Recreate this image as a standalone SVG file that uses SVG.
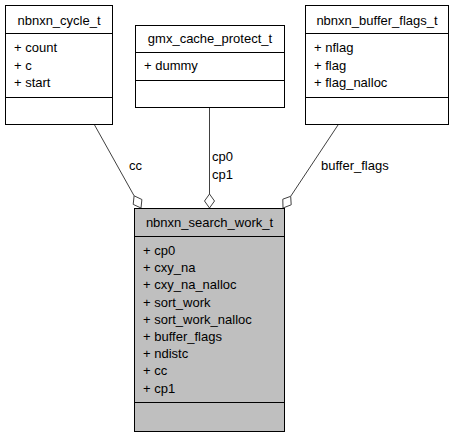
<svg xmlns="http://www.w3.org/2000/svg" width="453" height="437" viewBox="0 0 453 437">
  <style>
    .box { fill: #ffffff; stroke: #000000; stroke-width: 1; }
    .main { fill: #bfbfbf; }
    .sep { stroke: #000000; stroke-width: 1; }
    text { font-family: "Liberation Sans", Arial, sans-serif; font-size: 13px; fill: #000000; }
    .title { text-anchor: middle; }
    .edge { stroke: #404040; stroke-width: 1; fill: none; }
    .diamond { fill: #ffffff; stroke: #404040; stroke-width: 1; }
  </style>
  <rect width="453" height="437" fill="#ffffff"/>

  <g id="connectors">
    <!-- cc -->
    <line class="edge" x1="94" y1="124" x2="134.1" y2="195.8"/>
    <polygon class="diamond" points="141,208 141.9,199.5 134.1,195.8 133.2,204.4"/>
    <text x="129" y="170">cc</text>
    <!-- cp0 / cp1 -->
    <line class="edge" x1="209.5" y1="107" x2="209.5" y2="194"/>
    <polygon class="diamond" points="209.5,208 214.5,201 209.5,194 204.5,201"/>
    <text x="212" y="161">cp0</text>
    <text x="212" y="179">cp1</text>
    <!-- buffer_flags -->
    <line class="edge" x1="338" y1="125" x2="290.7" y2="196.3"/>
    <polygon class="diamond" points="283,208 291.2,204.8 290.7,196.3 282.8,199.2"/>
    <text x="321" y="170">buffer_flags</text>
  </g>

  <g id="nbnxn_cycle_t">
    <rect class="box" x="5.5" y="5.5" width="107" height="119"/>
    <line class="sep" x1="5.5" y1="33.5" x2="112.5" y2="33.5"/>
    <line class="sep" x1="5.5" y1="97.5" x2="112.5" y2="97.5"/>
    <text class="title" x="59" y="25">nbnxn_cycle_t</text>
    <text x="14" y="52">+ count</text>
    <text x="14" y="69.5">+ c</text>
    <text x="14" y="87">+ start</text>
  </g>

  <g id="gmx_cache_protect_t">
    <rect class="box" x="135.5" y="25.5" width="149" height="82"/>
    <line class="sep" x1="135.5" y1="52.5" x2="284.5" y2="52.5"/>
    <line class="sep" x1="135.5" y1="80.5" x2="284.5" y2="80.5"/>
    <text class="title" x="210" y="43">gmx_cache_protect_t</text>
    <text x="144" y="70">+ dummy</text>
  </g>

  <g id="nbnxn_buffer_flags_t">
    <rect class="box" x="305.5" y="5.5" width="143" height="119"/>
    <line class="sep" x1="305.5" y1="33.5" x2="448.5" y2="33.5"/>
    <line class="sep" x1="305.5" y1="97.5" x2="448.5" y2="97.5"/>
    <text class="title" x="377" y="25">nbnxn_buffer_flags_t</text>
    <text x="314" y="52">+ nflag</text>
    <text x="314" y="69.5">+ flag</text>
    <text x="314" y="87">+ flag_nalloc</text>
  </g>

  <g id="nbnxn_search_work_t">
    <rect class="box main" x="134.5" y="208.5" width="150" height="223"/>
    <line class="sep" x1="134.5" y1="236.5" x2="284.5" y2="236.5"/>
    <line class="sep" x1="134.5" y1="402.5" x2="284.5" y2="402.5"/>
    <text class="title" x="209.5" y="227">nbnxn_search_work_t</text>
    <text x="143" y="255">+ cp0</text>
    <text x="143" y="272.2">+ cxy_na</text>
    <text x="143" y="289.4">+ cxy_na_nalloc</text>
    <text x="143" y="306.6">+ sort_work</text>
    <text x="143" y="323.8">+ sort_work_nalloc</text>
    <text x="143" y="341">+ buffer_flags</text>
    <text x="143" y="358.2">+ ndistc</text>
    <text x="143" y="375.4">+ cc</text>
    <text x="143" y="392.6">+ cp1</text>
  </g>
</svg>
